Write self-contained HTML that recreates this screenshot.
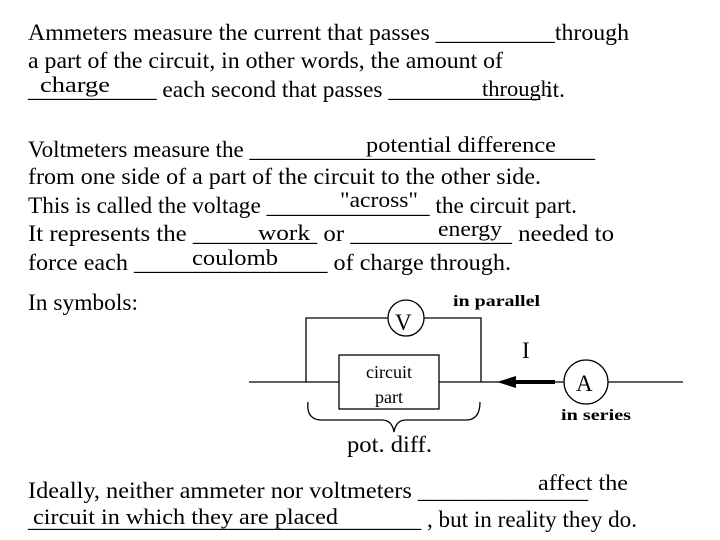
<!DOCTYPE html>
<html><head><meta charset="utf-8"><style>
html,body{margin:0;padding:0;background:#fff;}
svg{display:block;font-family:'Liberation Serif','DejaVu Serif',serif;}
svg text{font-family:'Liberation Serif','DejaVu Serif',serif;fill:#000;}
</style></head><body>
<svg width="720" height="540" viewBox="0 0 720 540" xmlns="http://www.w3.org/2000/svg" font-family="Liberation Serif, DejaVu Serif, serif">
<g font-size="23" font-family="Liberation Serif, serif">
<text x="28" y="40" textLength="601" lengthAdjust="spacingAndGlyphs">Ammeters measure the current that passes __________through</text>
<text x="28" y="68" textLength="475" lengthAdjust="spacingAndGlyphs">a part of the circuit, in other words, the amount of</text>
<text x="28" y="97" textLength="537" lengthAdjust="spacingAndGlyphs">___________ each second that passes _____________ it.</text>
<text x="28" y="157" textLength="567" lengthAdjust="spacingAndGlyphs">Voltmeters measure the ______________________________</text>
<text x="28" y="184" textLength="513" lengthAdjust="spacingAndGlyphs">from one side of a part of the circuit to the other side.</text>
<text x="28" y="213" textLength="549" lengthAdjust="spacingAndGlyphs">This is called the voltage ______________ the circuit part.</text>
<text x="28" y="241" textLength="586" lengthAdjust="spacingAndGlyphs">It represents the __________ or _____________ needed to</text>
<text x="28" y="270" textLength="483" lengthAdjust="spacingAndGlyphs">force each ________________ of charge through.</text>
<text x="28" y="310" textLength="110" lengthAdjust="spacingAndGlyphs">In symbols:</text>
<text x="28" y="498" textLength="560" lengthAdjust="spacingAndGlyphs">Ideally,  neither ammeter nor voltmeters ______________</text>
<text x="28" y="527" textLength="609" lengthAdjust="spacingAndGlyphs">__________________________________ , but in reality they do.</text>
</g>
<g font-size="22" font-family="Liberation Serif, serif">
<text x="40" y="92" textLength="70" lengthAdjust="spacingAndGlyphs">charge</text>
<text x="482" y="96" textLength="70" lengthAdjust="spacingAndGlyphs">through</text>
<text x="366" y="152" textLength="190" lengthAdjust="spacingAndGlyphs">potential difference</text>
<text x="340" y="207" textLength="78" lengthAdjust="spacingAndGlyphs">"across"</text>
<text x="258" y="240" textLength="52" lengthAdjust="spacingAndGlyphs">work</text>
<text x="438" y="236" textLength="64" lengthAdjust="spacingAndGlyphs">energy</text>
<text x="192" y="265" textLength="86" lengthAdjust="spacingAndGlyphs">coulomb</text>
<text x="538" y="490" textLength="90" lengthAdjust="spacingAndGlyphs">affect the</text>
<text x="33" y="524" textLength="305" lengthAdjust="spacingAndGlyphs">circuit in which they are placed</text>
</g>
<g stroke="#000" stroke-width="1.3" fill="none">
<line x1="249" y1="382" x2="339" y2="382"/>
<line x1="439" y1="382" x2="564" y2="382"/>
<line x1="608" y1="382" x2="683" y2="382"/>
<polyline points="306,382 306,318 388,318"/>
<polyline points="424,318 481,318 481,382"/>
<circle cx="406" cy="318" r="18"/>
<rect x="339" y="355" width="100" height="54"/>
<circle cx="586" cy="382" r="22"/>
<path d="M308,402 Q306,420 322,420 L382,420 Q392,420 394,432 Q396,420 406,420 L466,420 Q480,420 480,402"/>
</g>
<line x1="515" y1="382" x2="555" y2="382" stroke="#000" stroke-width="4"/>
<polygon points="497,382 516,376 516,388" fill="#000"/>
<g font-family="Liberation Serif, serif">
<text x="395" y="330" font-size="23">V</text>
<text x="576" y="391" font-size="23">A</text>
<text x="522" y="358" font-size="23">I</text>
<text x="389" y="378" font-size="18" text-anchor="middle">circuit</text>
<text x="389" y="403" font-size="18" text-anchor="middle">part</text>
<text x="453" y="306" font-size="16" font-weight="bold" textLength="87" lengthAdjust="spacingAndGlyphs">in parallel</text>
<text x="561" y="420" font-size="16" font-weight="bold" textLength="70" lengthAdjust="spacingAndGlyphs">in series</text>
<text x="347" y="452" font-size="23" textLength="85" lengthAdjust="spacingAndGlyphs">pot. diff.</text>
</g>
</svg>
</body></html>
